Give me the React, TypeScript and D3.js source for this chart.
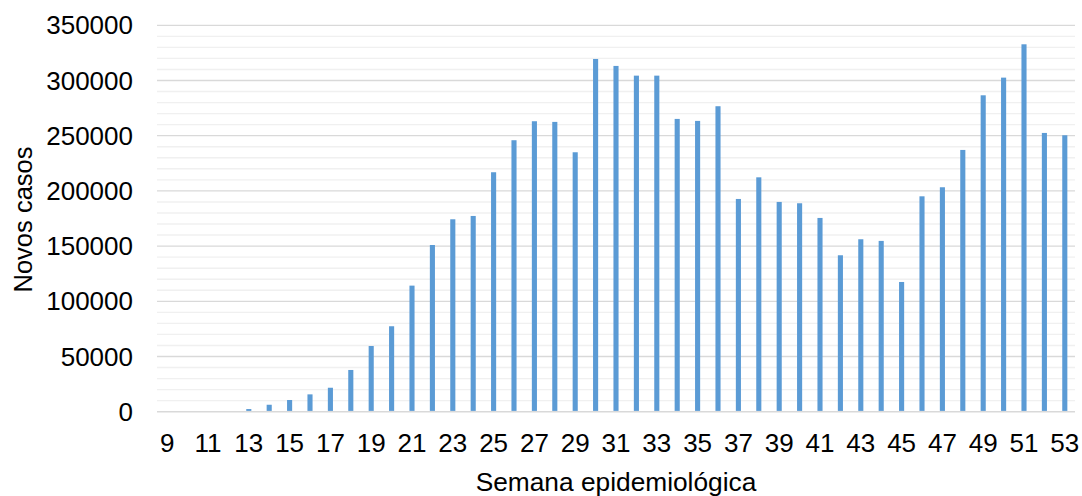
import React from "react";
import * as d3 from "d3";

const weeks: number[] = [9,10,11,12,13,14,15,16,17,18,19,20,21,22,23,24,25,26,27,28,29,30,31,32,33,34,35,36,37,38,39,40,41,42,43,44,45,46,47,48,49,50,51,52,53];
const cases: number[] = [
  0, 50, 200, 600, 2400, 6300, 10600, 15700, 21700, 37800, 59500, 77400, 114200,
  151000, 174300, 177300, 216900, 245900, 263100, 262500, 235000, 319500, 313200,
  304400, 304400, 265200, 263400, 276700, 192700, 212300, 190000, 188800, 175500,
  141700, 156200, 154700, 117500, 195100, 203300, 237100, 286600, 302600, 332800,
  252500, 250400,
];
const yMajorTicks: number[] = [0, 50000, 100000, 150000, 200000, 250000, 300000, 350000];
const xTickLabels: number[] = weeks.filter((w) => w % 2 === 1);

const W = 1082;
const H = 496;
const FONT = "'Liberation Sans', Arial, sans-serif";

export default function App() {
  const x = d3
    .scaleBand<number>()
    .domain(weeks)
    .range([157, 1075])
    .paddingInner(0.75)
    .paddingOuter(0.375);
  const y = d3.scaleLinear().domain([0, 350000]).range([411.7, 25.3]);
  const minor = d3.range(0, 350001, 10000).filter((v) => v % 50000 !== 0);

  return (
    <svg
      width={W}
      height={H}
      style={{ position: "absolute", left: 0, top: 0, background: "#fff" }}
      fontFamily={FONT}
    >
      <rect x={0} y={0} width={W} height={H} fill="#fff" />
      {minor.map((v) => (
        <line key={"m" + v} x1={157} x2={1075} y1={y(v)} y2={y(v)} stroke="#f0f0f0" strokeWidth={1.4} />
      ))}
      {yMajorTicks.map((v) => (
        <line
          key={"M" + v}
          x1={157}
          x2={1075}
          y1={y(v)}
          y2={y(v)}
          stroke="#d9d9d9"
          strokeWidth={v === 0 ? 1.6 : 1.3}
        />
      ))}
      {weeks.map((w, i) => (
        <rect
          key={"b" + w}
          x={x(w)!}
          y={y(cases[i])}
          width={x.bandwidth()}
          height={y(0) - y(cases[i]) - 0.8}
          fill="#5b9bd5"
        />
      ))}
      {yMajorTicks.map((v) => (
        <text key={"yl" + v} x={133} y={y(v)} dy="0.35em" textAnchor="end" fontSize={26} fill="#000">
          {v}
        </text>
      ))}
      {xTickLabels.map((w) => (
        <text key={"xl" + w} x={x(w)! + x.bandwidth() / 2} y={452} textAnchor="middle" fontSize={26} fill="#000">
          {w}
        </text>
      ))}
      <text x={616} y={491} textAnchor="middle" fontSize={26.3} fill="#000">
        Semana epidemiológica
      </text>
      <text
        transform={`translate(32, ${(411.7 + 25.3) / 2 + 1}) rotate(-90)`}
        textAnchor="middle"
        fontSize={25.5}
        fill="#000"
      >
        Novos casos
      </text>
    </svg>
  );
}
